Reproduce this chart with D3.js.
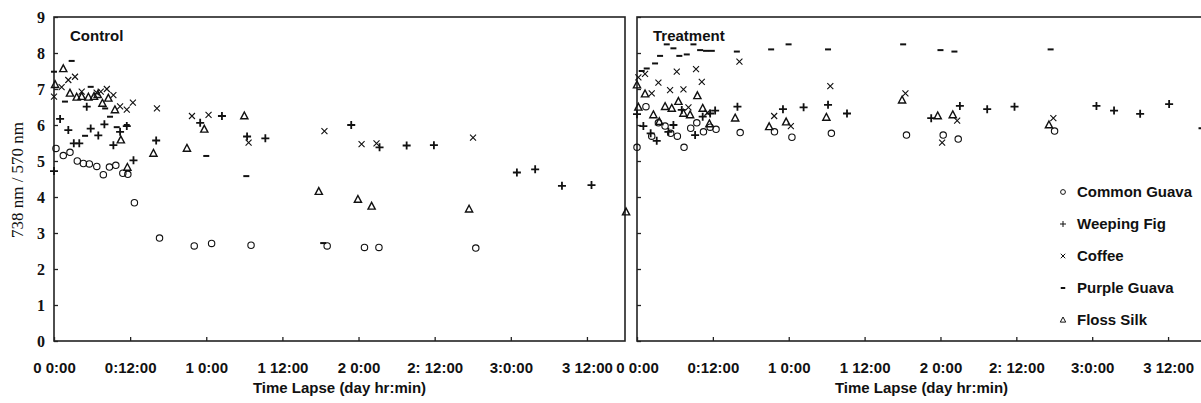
<!DOCTYPE html>
<head>
    <meta charset="utf-8">
    <script src="https://d3js.org/d3.v7.min.js"></script>
    <style>
        body {
            margin: 0;
            background: #fff;
        }
        .tick text.xl, .title, .xtitle, .legend text {
            font-family: "Liberation Sans", Arial, sans-serif;
            font-weight: bold;
            fill: #111;
        }
        .ylab, .tick text.yl {
            font-family: "Liberation Serif", "Times New Roman", serif;
            fill: #111;
        }
    </style>
</head>

<body>
    <script>
        // species (legend order)
        var species = ["Common Guava", "Weeping Fig", "Coffee", "Purple Guava", "Floss Silk"];
        var marks = ["circle", "plus", "cross", "dash", "triangle"];

        var xTicks = [0, 0.5, 1, 1.5, 2, 2.5, 3, 3.5];
        var xTickLabels = ["0 0:00", "0:12:00", "1 0:00", "1 12:00", "2 0:00", "2: 12:00", "3:0:00", "3 12:00"];
        var yTicks = [0, 1, 2, 3, 4, 5, 6, 7, 8, 9];

        // [time in days, 738/570 ratio]  -- Control
        var ctrlCommonGuava = [[0.013,5.35],[0.061,5.15],[0.105,5.24],[0.153,5.0],[0.193,4.93],[0.232,4.92],[0.281,4.85],
            [0.324,4.62],[0.364,4.83],[0.406,4.88],[0.452,4.66],[0.485,4.63],[0.528,3.84],[0.693,2.86],[0.921,2.64],
            [1.035,2.71],[1.294,2.66],[1.794,2.64],[2.039,2.6],[2.134,2.6],[2.77,2.58]];
        var ctrlWeepingFig = [[0,4.72],[0.04,6.17],[0.094,5.86],[0.13,5.49],[0.166,5.49],[0.215,6.51],[0.241,5.9],
            [0.291,5.71],[0.331,6.02],[0.39,5.44],[0.434,5.81],[0.478,5.97],[0.522,5.02],[0.671,5.57],[0.96,6.06],
            [1.103,6.25],[1.268,5.68],[1.388,5.63],[1.952,6.0],[2.138,5.38],[2.316,5.43],[2.495,5.44],[3.04,4.68],
            [3.16,4.77],[3.336,4.31],[3.53,4.33]];
        var ctrlCoffee = [[0,6.79],[0.05,7.05],[0.094,7.25],[0.138,7.34],[0.182,6.93],[0.28,6.9],[0.307,6.93],[0.347,7.0],
            [0.39,6.83],[0.434,6.52],[0.478,6.43],[0.518,6.62],[0.676,6.46],[0.906,6.25],[1.015,6.28],[1.278,5.51],
            [1.776,5.83],[2.02,5.47],[2.118,5.49],[2.752,5.65]];
        var ctrlPurpleGuava = [[0,7.48],[0.072,6.65],[0.116,7.78],[0.204,5.7],[0.241,7.06],[0.336,6.46],[0.368,6.23],
            [0.412,5.94],[0.478,6.0],[1.0,5.14],[1.263,4.58],[1.768,2.72]];
        var ctrlFlossSilk = [[0.007,7.12],[0.061,7.56],[0.105,6.88],[0.149,6.77],[0.182,6.79],[0.226,6.77],[0.263,6.79],
            [0.287,6.84],[0.318,6.6],[0.357,6.74],[0.40,6.42],[0.439,5.58],[0.482,4.82],[0.653,5.21],[0.873,5.35],
            [0.987,5.88],[1.25,6.25],[1.739,4.15],[1.996,3.93],[2.086,3.74],[2.726,3.66],[3.757,3.58]];

        // Treatment
        var trtCommonGuava = [[0,5.38],[0.059,6.51],[0.097,5.69],[0.141,6.06],[0.185,5.97],[0.222,5.77],[0.266,5.69],
            [0.31,5.38],[0.354,5.91],[0.394,6.06],[0.438,5.81],[0.482,5.94],[0.521,5.88],[0.68,5.79],[0.906,5.81],
            [1.021,5.66],[1.281,5.77],[1.776,5.72],[2.018,5.72],[2.117,5.61],[2.752,5.83]];
        var trtWeepingFig = [[0,6.3],[0.042,5.97],[0.09,5.77],[0.13,5.56],[0.207,5.81],[0.24,6.0],[0.295,6.42],
            [0.383,5.72],[0.433,6.23],[0.482,6.32],[0.515,6.4],[0.662,6.51],[0.962,6.44],[1.098,6.49],[1.259,6.56],
            [1.384,6.32],[1.939,6.19],[2.128,6.53],[2.308,6.44],[2.488,6.51],[3.028,6.53],[3.144,6.4],[3.316,6.31],
            [3.507,6.58],[3.727,5.91]];
        var trtCoffee = [[0.009,7.32],[0.053,7.42],[0.097,6.88],[0.141,7.18],[0.218,6.97],[0.262,7.48],[0.306,6.99],
            [0.339,6.49],[0.389,7.55],[0.427,7.2],[0.464,6.34],[0.675,7.76],[0.904,6.25],[1.014,5.97],[1.274,7.08],
            [1.769,6.88],[2.011,5.51],[2.11,6.12],[2.744,6.19]];
        var trtPurpleGuava = [[0.031,7.5],[0.064,7.57],[0.119,7.71],[0.152,7.92],[0.196,8.24],[0.24,8.13],[0.279,7.92],
            [0.328,7.96],[0.372,8.24],[0.416,8.08],[0.455,8.06],[0.493,8.06],[0.658,8.04],[0.884,8.1],[0.999,8.24],
            [1.259,8.1],[1.754,8.24],[2.0,8.08],[2.092,8.04],[2.726,8.1]];
        var trtFlossSilk = [[0,7.11],[0.009,6.49],[0.053,6.86],[0.108,6.28],[0.147,6.09],[0.185,6.51],[0.229,6.46],
            [0.273,6.65],[0.306,6.32],[0.35,6.28],[0.398,6.81],[0.433,6.46],[0.477,6.03],[0.647,6.19],[0.871,5.95],
            [0.983,6.08],[1.248,6.21],[1.747,6.69],[1.982,6.25],[2.081,6.28],[2.715,6.0]];

        var panels = [
            { title: "Control", x0: 54, x1: 625, series: [ctrlCommonGuava, ctrlWeepingFig, ctrlCoffee, ctrlPurpleGuava, ctrlFlossSilk], yLabels: true },
            { title: "Treatment", x0: 637, x1: 1206, series: [trtCommonGuava, trtWeepingFig, trtCoffee, trtPurpleGuava, trtFlossSilk], yLabels: false }
        ];

        var width = 1201, height = 403,
            yTop = 17, yBottom = 341;

        var svg = d3.select("body").append("svg")
            .attr("width", width)
            .attr("height", height);

        var y = d3.scaleLinear().domain([0, 9]).range([yBottom, yTop]);

        // marker path for each mark type, s = scale
        function markPath(type, s) {
            var p = d3.path();
            if (type == "circle") {
                p.moveTo(3.2 * s, 0);
                p.arc(0, 0, 3.2 * s, 0, 2 * Math.PI);
            } else if (type == "plus") {
                p.moveTo(-4 * s, 0); p.lineTo(4 * s, 0);
                p.moveTo(0, -4 * s); p.lineTo(0, 4 * s);
            } else if (type == "cross") {
                p.moveTo(-3 * s, -3 * s); p.lineTo(3 * s, 3 * s);
                p.moveTo(-3 * s, 3 * s); p.lineTo(3 * s, -3 * s);
            } else if (type == "dash") {
                p.rect(-3 * s, -1, 6 * s, 2);
            } else {
                p.moveTo(0, -4 * s); p.lineTo(3.6 * s, 2.8 * s); p.lineTo(-3.6 * s, 2.8 * s); p.closePath();
            }
            return p.toString();
        }

        function styleMark(sel, type) {
            sel.attr("fill", type == "dash" ? "#111" : "none")
                .attr("stroke", type == "dash" ? "none" : "#111")
                .attr("stroke-width", type == "plus" ? 1.8 : (type == "triangle" ? 1.4 : 1.1));
        }

        panels.forEach(function(pn) {
            var x = d3.scaleLinear().domain([0, 3.75]).range([pn.x0, pn.x1]);
            var g = svg.append("g");

            // axes
            var xAxis = d3.axisBottom(x)
                .tickValues(xTicks)
                .tickSizeInner(-4)
                .tickSizeOuter(0)
                .tickPadding(21)
                .tickFormat(function(d, i) { return xTickLabels[i]; });
            var gx = g.append("g")
                .attr("transform", "translate(0," + yBottom + ")")
                .call(xAxis);
            gx.select(".domain").remove();
            gx.selectAll(".tick line").attr("stroke", "#222").attr("stroke-width", 1.3);
            gx.selectAll(".tick text").attr("class", "xl").style("font-size", "15px");

            var yAxis = d3.axisLeft(y)
                .tickValues(yTicks)
                .tickSizeInner(-4)
                .tickSizeOuter(0)
                .tickPadding(9)
                .tickFormat(pn.yLabels ? d3.format("d") : "");
            var gy = g.append("g")
                .attr("transform", "translate(" + pn.x0 + ",0)")
                .call(yAxis);
            gy.select(".domain").remove();
            gy.selectAll(".tick line").attr("stroke", "#222").attr("stroke-width", 1.3);
            gy.selectAll(".tick text").attr("class", "yl").style("font-size", "16px").style("font-weight", "bold");

            // frame
            g.append("rect")
                .attr("x", pn.x0)
                .attr("y", yTop)
                .attr("width", pn.x1 - pn.x0)
                .attr("height", yBottom - yTop)
                .attr("fill", "none")
                .attr("stroke", "#222")
                .attr("stroke-width", 1.6);

            g.append("text")
                .attr("class", "title")
                .attr("x", pn.x0 + 16)
                .attr("y", 41)
                .style("font-size", "15px")
                .text(pn.title);

            g.append("text")
                .attr("class", "xtitle")
                .attr("x", (pn.x0 + pn.x1) / 2)
                .attr("y", 393)
                .attr("text-anchor", "middle")
                .style("font-size", "15px")
                .text("Time Lapse (day hr:min)");

            // points
            pn.series.forEach(function(data, i) {
                g.append("g")
                    .selectAll("path")
                    .data(data)
                    .join("path")
                    .attr("transform", function(d) {
                        return "translate(" + x(d[0]) + "," + y(d[1]) + ")";
                    })
                    .attr("d", markPath(marks[i], 1))
                    .call(styleMark, marks[i]);
            });
        });

        // y axis label
        svg.append("text")
            .attr("class", "ylab")
            .attr("transform", "translate(23,180) rotate(-90)")
            .attr("text-anchor", "middle")
            .style("font-size", "17px")
            .text("738 nm / 570 nm");

        // legend
        var legend = svg.append("g").attr("class", "legend")
            .attr("transform", "translate(1063,192)");
        var items = legend.selectAll("g")
            .data(species)
            .join("g")
            .attr("transform", function(d, i) { return "translate(0," + i * 32 + ")"; });
        items.append("path")
            .attr("d", function(d, i) { return markPath(marks[i], 0.75); })
            .each(function(d, i) { d3.select(this).call(styleMark, marks[i]); })
            .attr("stroke-width", 1);
        items.append("text")
            .attr("x", 14)
            .attr("dy", "0.36em")
            .style("font-size", "15px")
            .text(function(d) { return d; });
    </script>
</body>
